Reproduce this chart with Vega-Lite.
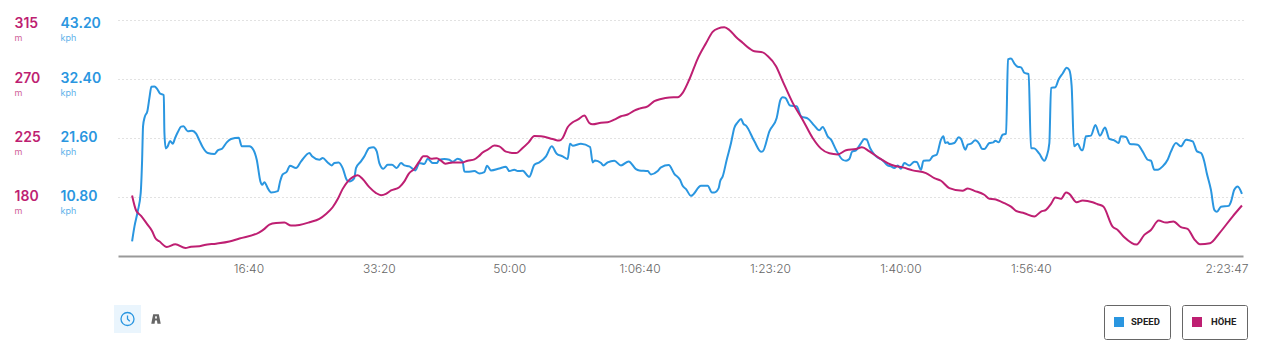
{"$schema":"https://vega.github.io/schema/vega-lite/v6.json","width":1125,"height":236,"autosize":"none","padding":{"left":118,"top":20,"right":20,"bottom":99},"background":"white","config":{"view":{"stroke":null},"font":"Inter"},
"datasets":{"speed":[{"t":108,"kph":2.69},{"t":126,"kph":5.38},{"t":151,"kph":8.14},{"t":174,"kph":11.5},{"t":185,"kph":17.62},{"t":192,"kph":23.74},{"t":205,"kph":25.46},{"t":225,"kph":26.5},{"t":241,"kph":28.95},{"t":256,"kph":30.97},{"t":279,"kph":31.03},{"t":300,"kph":30.6},{"t":322,"kph":29.74},{"t":351,"kph":29.44},{"t":356,"kph":22.52},{"t":366,"kph":19.7},{"t":381,"kph":20.07},{"t":399,"kph":21.05},{"t":420,"kph":20.56},{"t":438,"kph":21.6},{"t":458,"kph":22.64},{"t":484,"kph":23.68},{"t":502,"kph":23.74},{"t":535,"kph":22.83},{"t":568,"kph":22.95},{"t":599,"kph":22.4},{"t":624,"kph":21.17},{"t":650,"kph":19.89},{"t":688,"kph":18.85},{"t":739,"kph":18.66},{"t":765,"kph":19.34},{"t":798,"kph":19.64},{"t":834,"kph":20.81},{"t":867,"kph":21.42},{"t":926,"kph":21.66},{"t":949,"kph":20.07},{"t":1008,"kph":20.07},{"t":1038,"kph":19.46},{"t":1064,"kph":17.62},{"t":1092,"kph":13.65},{"t":1105,"kph":13.03},{"t":1123,"kph":13.52},{"t":1148,"kph":12.42},{"t":1174,"kph":11.63},{"t":1225,"kph":11.87},{"t":1243,"kph":13.65},{"t":1263,"kph":14.93},{"t":1294,"kph":15.42},{"t":1319,"kph":16.52},{"t":1365,"kph":16.09},{"t":1404,"kph":17.32},{"t":1468,"kph":18.85},{"t":1488,"kph":18.24},{"t":1544,"kph":17.62},{"t":1570,"kph":17.93},{"t":1608,"kph":17.13},{"t":1639,"kph":16.58},{"t":1659,"kph":17.01},{"t":1692,"kph":17.13},{"t":1723,"kph":16.09},{"t":1754,"kph":13.95},{"t":1774,"kph":13.65},{"t":1812,"kph":14.26},{"t":1825,"kph":16.09},{"t":1863,"kph":17.32},{"t":1889,"kph":18.24},{"t":1927,"kph":19.77},{"t":1958,"kph":19.89},{"t":1984,"kph":19.15},{"t":2004,"kph":17.01},{"t":2035,"kph":15.97},{"t":2068,"kph":16.71},{"t":2101,"kph":16.71},{"t":2137,"kph":16.09},{"t":2170,"kph":17.01},{"t":2196,"kph":16.58},{"t":2234,"kph":16.4},{"t":2280,"kph":15.67},{"t":2311,"kph":17.01},{"t":2349,"kph":16.83},{"t":2375,"kph":17.81},{"t":2413,"kph":17.01},{"t":2444,"kph":17.01},{"t":2464,"kph":17.62},{"t":2503,"kph":17.75},{"t":2541,"kph":17.62},{"t":2566,"kph":17.26},{"t":2605,"kph":17.81},{"t":2643,"kph":17.26},{"t":2656,"kph":15.48},{"t":2681,"kph":15.42},{"t":2733,"kph":15.54},{"t":2771,"kph":15.11},{"t":2809,"kph":15.36},{"t":2830,"kph":16.52},{"t":2860,"kph":15.67},{"t":2924,"kph":16.03},{"t":2975,"kph":16.34},{"t":3001,"kph":15.54},{"t":3039,"kph":15.79},{"t":3065,"kph":15.54},{"t":3103,"kph":15.6},{"t":3154,"kph":14.5},{"t":3193,"kph":16.71},{"t":3231,"kph":17.13},{"t":3282,"kph":18.24},{"t":3326,"kph":20.07},{"t":3364,"kph":18.73},{"t":3410,"kph":18.24},{"t":3448,"kph":17.75},{"t":3466,"kph":20.56},{"t":3487,"kph":20.19},{"t":3550,"kph":20.56},{"t":3620,"kph":19.95},{"t":3640,"kph":17.13},{"t":3658,"kph":17.5},{"t":3704,"kph":17.01},{"t":3722,"kph":16.58},{"t":3755,"kph":17.13},{"t":3806,"kph":17.44},{"t":3857,"kph":16.58},{"t":3916,"kph":17.32},{"t":3972,"kph":15.91},{"t":3998,"kph":15.67},{"t":4062,"kph":15.54},{"t":4087,"kph":14.93},{"t":4139,"kph":15.54},{"t":4164,"kph":16.22},{"t":4223,"kph":16.64},{"t":4266,"kph":15.05},{"t":4310,"kph":13.95},{"t":4330,"kph":12.85},{"t":4356,"kph":12.24},{"t":4394,"kph":11.01},{"t":4471,"kph":12.85},{"t":4522,"kph":12.85},{"t":4555,"kph":11.63},{"t":4573,"kph":11.63},{"t":4606,"kph":12.42},{"t":4617,"kph":13.65},{"t":4637,"kph":14.56},{"t":4668,"kph":17.62},{"t":4701,"kph":20.68},{"t":4726,"kph":23.44},{"t":4752,"kph":24.48},{"t":4778,"kph":25.09},{"t":4795,"kph":24.23},{"t":4816,"kph":23.87},{"t":4880,"kph":20.99},{"t":4931,"kph":19.09},{"t":4944,"kph":19.15},{"t":4995,"kph":22.83},{"t":5051,"kph":25.27},{"t":5079,"kph":28.52},{"t":5097,"kph":29.07},{"t":5118,"kph":28.95},{"t":5153,"kph":27.54},{"t":5204,"kph":27.42},{"t":5238,"kph":25.58},{"t":5294,"kph":25.09},{"t":5340,"kph":23.87},{"t":5378,"kph":23.01},{"t":5404,"kph":23.62},{"t":5442,"kph":21.91},{"t":5468,"kph":21.3},{"t":5506,"kph":19.46},{"t":5557,"kph":17.62},{"t":5583,"kph":17.44},{"t":5608,"kph":17.75},{"t":5629,"kph":19.09},{"t":5659,"kph":19.34},{"t":5698,"kph":20.68},{"t":5723,"kph":21.42},{"t":5741,"kph":21.3},{"t":5767,"kph":19.77},{"t":5787,"kph":18.97},{"t":5813,"kph":18.24},{"t":5864,"kph":17.5},{"t":5902,"kph":16.58},{"t":5928,"kph":16.4},{"t":5953,"kph":16.09},{"t":5979,"kph":16.58},{"t":6004,"kph":15.97},{"t":6030,"kph":17.01},{"t":6068,"kph":16.58},{"t":6107,"kph":17.26},{"t":6125,"kph":17.2},{"t":6158,"kph":15.79},{"t":6176,"kph":17.44},{"t":6222,"kph":17.5},{"t":6247,"kph":18.24},{"t":6278,"kph":18.54},{"t":6311,"kph":21.3},{"t":6329,"kph":21.91},{"t":6344,"kph":20.68},{"t":6362,"kph":20.81},{"t":6375,"kph":20.5},{"t":6413,"kph":20.68},{"t":6447,"kph":21.72},{"t":6464,"kph":21.42},{"t":6498,"kph":19.46},{"t":6516,"kph":20.38},{"t":6541,"kph":20.56},{"t":6574,"kph":21.17},{"t":6605,"kph":20.5},{"t":6625,"kph":19.64},{"t":6643,"kph":19.58},{"t":6682,"kph":20.68},{"t":6712,"kph":20.81},{"t":6728,"kph":21.11},{"t":6753,"kph":20.81},{"t":6784,"kph":22.21},{"t":6810,"kph":22.4},{"t":6825,"kph":35.98},{"t":6848,"kph":36.17},{"t":6873,"kph":35.25},{"t":6899,"kph":34.64},{"t":6925,"kph":34.52},{"t":6950,"kph":33.54},{"t":6983,"kph":33.29},{"t":7001,"kph":19.77},{"t":7027,"kph":19.7},{"t":7065,"kph":18.73},{"t":7103,"kph":17.44},{"t":7121,"kph":18.24},{"t":7142,"kph":20.68},{"t":7155,"kph":30.78},{"t":7188,"kph":30.9},{"t":7213,"kph":32.31},{"t":7244,"kph":33.41},{"t":7275,"kph":34.45},{"t":7295,"kph":34.03},{"t":7313,"kph":31.09},{"t":7331,"kph":20.07},{"t":7359,"kph":20.56},{"t":7385,"kph":19.46},{"t":7397,"kph":19.34},{"t":7423,"kph":21.91},{"t":7461,"kph":22.03},{"t":7495,"kph":23.99},{"t":7530,"kph":22.03},{"t":7569,"kph":23.5},{"t":7602,"kph":21.42},{"t":7640,"kph":21.17},{"t":7673,"kph":20.68},{"t":7691,"kph":21.91},{"t":7730,"kph":21.79},{"t":7760,"kph":20.5},{"t":7819,"kph":20.38},{"t":7857,"kph":19.15},{"t":7896,"kph":17.62},{"t":7921,"kph":17.44},{"t":7947,"kph":15.79},{"t":7973,"kph":15.79},{"t":8011,"kph":16.4},{"t":8049,"kph":17.62},{"t":8075,"kph":19.15},{"t":8113,"kph":20.68},{"t":8151,"kph":20.07},{"t":8190,"kph":21.3},{"t":8241,"kph":20.99},{"t":8274,"kph":19.15},{"t":8305,"kph":18.85},{"t":8330,"kph":17.32},{"t":8348,"kph":15.3},{"t":8381,"kph":12.12},{"t":8407,"kph":8.44},{"t":8427,"kph":8.08},{"t":8458,"kph":9.0},{"t":8517,"kph":9.18},{"t":8535,"kph":9.97},{"t":8560,"kph":12.12},{"t":8586,"kph":12.73},{"t":8619,"kph":11.38}],
"elev":[{"t":108,"m":181.2},{"t":139,"m":169.7},{"t":177,"m":165.6},{"t":228,"m":158.7},{"t":261,"m":154.1},{"t":287,"m":148.5},{"t":317,"m":146.2},{"t":374,"m":141.9},{"t":440,"m":143.9},{"t":517,"m":141.1},{"t":560,"m":142.1},{"t":624,"m":142.4},{"t":663,"m":143.4},{"t":752,"m":144.4},{"t":854,"m":146.0},{"t":931,"m":148.3},{"t":1084,"m":153.1},{"t":1123,"m":155.7},{"t":1161,"m":159.0},{"t":1212,"m":160.2},{"t":1276,"m":160.5},{"t":1327,"m":158.2},{"t":1391,"m":158.7},{"t":1468,"m":160.7},{"t":1544,"m":163.3},{"t":1595,"m":167.1},{"t":1646,"m":172.2},{"t":1685,"m":178.4},{"t":1723,"m":186.2},{"t":1761,"m":191.8},{"t":1800,"m":195.2},{"t":1838,"m":196.5},{"t":1876,"m":193.7},{"t":1927,"m":187.5},{"t":1979,"m":183.0},{"t":2017,"m":181.4},{"t":2055,"m":182.4},{"t":2094,"m":185.0},{"t":2157,"m":187.5},{"t":2196,"m":191.9},{"t":2229,"m":197.7},{"t":2272,"m":201.5},{"t":2311,"m":207.2},{"t":2341,"m":211.0},{"t":2367,"m":211.0},{"t":2400,"m":209.2},{"t":2444,"m":209.5},{"t":2477,"m":207.7},{"t":2510,"m":205.4},{"t":2566,"m":206.4},{"t":2643,"m":206.4},{"t":2681,"m":207.7},{"t":2733,"m":208.7},{"t":2766,"m":211.0},{"t":2796,"m":214.0},{"t":2835,"m":216.1},{"t":2886,"m":219.2},{"t":2924,"m":218.6},{"t":2975,"m":214.6},{"t":3052,"m":213.5},{"t":3103,"m":217.4},{"t":3149,"m":221.7},{"t":3193,"m":226.5},{"t":3244,"m":226.3},{"t":3333,"m":224.2},{"t":3384,"m":223.0},{"t":3410,"m":225.0},{"t":3448,"m":233.2},{"t":3487,"m":237.0},{"t":3525,"m":239.0},{"t":3576,"m":242.1},{"t":3614,"m":236.5},{"t":3640,"m":235.5},{"t":3704,"m":236.7},{"t":3755,"m":237.0},{"t":3806,"m":239.0},{"t":3857,"m":241.6},{"t":3908,"m":242.9},{"t":3959,"m":245.9},{"t":3998,"m":247.4},{"t":4062,"m":249.2},{"t":4113,"m":253.1},{"t":4164,"m":254.8},{"t":4228,"m":255.9},{"t":4292,"m":256.1},{"t":4330,"m":259.4},{"t":4381,"m":269.6},{"t":4445,"m":285.4},{"t":4509,"m":297.2},{"t":4560,"m":305.9},{"t":4599,"m":308.4},{"t":4650,"m":309.4},{"t":4688,"m":307.4},{"t":4739,"m":302.0},{"t":4790,"m":297.7},{"t":4841,"m":293.4},{"t":4880,"m":291.1},{"t":4944,"m":290.3},{"t":4982,"m":287.5},{"t":5046,"m":279.8},{"t":5097,"m":268.4},{"t":5174,"m":251.8},{"t":5250,"m":239.0},{"t":5327,"m":225.0},{"t":5391,"m":216.9},{"t":5455,"m":213.3},{"t":5519,"m":212.5},{"t":5583,"m":215.6},{"t":5659,"m":216.6},{"t":5705,"m":217.9},{"t":5762,"m":214.8},{"t":5838,"m":209.7},{"t":5902,"m":205.9},{"t":5953,"m":203.8},{"t":6017,"m":202.6},{"t":6094,"m":200.3},{"t":6196,"m":198.2},{"t":6260,"m":194.4},{"t":6311,"m":192.4},{"t":6375,"m":186.8},{"t":6477,"m":184.7},{"t":6516,"m":186.5},{"t":6567,"m":184.7},{"t":6643,"m":181.7},{"t":6682,"m":178.6},{"t":6720,"m":178.3},{"t":6797,"m":175.3},{"t":6848,"m":172.7},{"t":6886,"m":169.4},{"t":6950,"m":167.6},{"t":7027,"m":165.1},{"t":7078,"m":168.9},{"t":7116,"m":170.2},{"t":7155,"m":174.8},{"t":7188,"m":179.6},{"t":7231,"m":178.6},{"t":7270,"m":183.4},{"t":7295,"m":182.4},{"t":7351,"m":176.0},{"t":7397,"m":177.3},{"t":7474,"m":176.0},{"t":7512,"m":174.5},{"t":7556,"m":172.7},{"t":7627,"m":157.4},{"t":7666,"m":154.9},{"t":7717,"m":149.3},{"t":7811,"m":143.7},{"t":7870,"m":151.1},{"t":7921,"m":154.9},{"t":7980,"m":162.0},{"t":8036,"m":160.5},{"t":8093,"m":161.3},{"t":8151,"m":157.0},{"t":8202,"m":155.7},{"t":8254,"m":147.7},{"t":8297,"m":143.9},{"t":8374,"m":144.7},{"t":8445,"m":152.3},{"t":8547,"m":165.1},{"t":8619,"m":173.5}]},
"encoding":{"x":{"field":"t","type":"quantitative","scale":{"domain":[0,8627],"nice":false,"zero":false},"axis":{"title":null,"values":[1000,2000,3000,4000,5000,6000,7000,8627],"grid":false,"ticks":false,"domainColor":"#999999","domainWidth":2,"labelColor":"#666666","labelFont":"Inter","labelFontSize":12,"labelFontWeight":300,"labelPadding":7,"labelFlush":2,"labelFlushOffset":5,"labelExpr":"(datum.value<3600?'':floor(datum.value/3600)+':')+(floor(datum.value%3600/60)<10&&datum.value>=3600?'0':'')+floor(datum.value%3600/60)+':'+(datum.value%60<10?'0':'')+datum.value%60"}}},
"layer":[
{"data":{"name":"speed"},"mark":{"type":"line","strokeWidth":2,"strokeJoin":"round","interpolate":"monotone"},"encoding":{"y":{"field":"kph","type":"quantitative","scale":{"domain":[0,43.2],"nice":false},"axis":{"orient":"left","title":null,"values":[10.8,21.6,32.4,43.2],"format":".2f","grid":true,"gridColor":"#c4c4c4","gridDash":[1,3],"gridWidth":1,"domain":false,"ticks":false,"tickSize":0,"labelAlign":"left","labelPadding":58,"labelColor":"#2a96e0","labelFont":"Inter","labelFontSize":14,"labelFontWeight":600,"labelOffset":{"condition":{"test":"datum.value==43.2","value":3},"value":-0.5}}},"color":{"datum":"SPEED","scale":{"domain":["SPEED"],"range":["#2a96e0"]},"legend":{"orient":"none","legendX":986,"legendY":285,"title":null,"padding":10,"clipHeight":14,"strokeColor":"#666666","cornerRadius":2,"symbolType":"square","symbolSize":100,"symbolFillColor":"#2a96e0","symbolStrokeColor":"#2a96e0","symbolStrokeWidth":0,"labelFont":"Roboto","labelFontWeight":"bold","labelFontSize":9.5,"labelColor":"#222222","labelOffset":7}}}},
{"data":{"name":"elev"},"mark":{"type":"line","strokeWidth":2,"strokeJoin":"round","interpolate":"monotone"},"encoding":{"y":{"field":"m","type":"quantitative","scale":{"domain":[135,315],"nice":false,"zero":false},"axis":{"orient":"left","title":null,"values":[180,225,270,315],"format":"d","grid":false,"domain":false,"ticks":false,"tickSize":0,"labelAlign":"left","labelPadding":104,"labelColor":"#be1f72","labelFont":"Inter","labelFontSize":14,"labelFontWeight":600,"labelOffset":{"condition":{"test":"datum.value==315","value":3},"value":-0.5}}},"color":{"datum":"HÖHE","scale":{"domain":["HÖHE"],"range":["#be1f72"]},"legend":{"orient":"none","legendX":1064,"legendY":285,"title":null,"padding":10,"clipHeight":14,"strokeColor":"#666666","cornerRadius":2,"symbolType":"square","symbolSize":100,"symbolFillColor":"#be1f72","symbolStrokeColor":"#be1f72","symbolStrokeWidth":0,"labelFont":"Roboto","labelFontWeight":"bold","labelFontSize":9.5,"labelColor":"#222222","labelOffset":9}}}},
{"data":{"values":[]},"mark":{"type":"line"},"encoding":{"y":{"field":"v","type":"quantitative","scale":{"domain":[0,43.2],"nice":false},"axis":{"orient":"left","title":null,"values":[10.8,21.6,32.4,43.2],"grid":false,"domain":false,"ticks":false,"tickSize":0,"labelAlign":"left","labelPadding":58,"labelColor":"#62b2ea","labelFont":"Inter","labelFontSize":9,"labelFontWeight":400,"labelExpr":"'kph'","labelOffset":{"condition":{"test":"datum.value==43.2","value":17},"value":13.5}}},"color":{"datum":"clock","scale":{"domain":["clock"],"range":["#2a96e0"]},"legend":{"orient":"none","legendX":-4,"legendY":285,"title":null,"padding":6,"clipHeight":16,"fillColor":"#eaf5fd","symbolType":"M1,0A1,1 0 1,1 -1,0A1,1 0 1,1 1,0M0,-0.55L0,0L0.35,0.35","symbolSize":169,"symbolStrokeColor":"#2a96e0","symbolFillColor":"transparent","symbolStrokeWidth":1.3,"labelExpr":"''","labelFontSize":1,"labelOffset":0}}}},
{"data":{"values":[]},"mark":{"type":"line"},"encoding":{"y":{"field":"v","type":"quantitative","scale":{"domain":[135,315],"nice":false,"zero":false},"axis":{"orient":"left","title":null,"values":[180,225,270,315],"grid":false,"domain":false,"ticks":false,"tickSize":0,"labelAlign":"left","labelPadding":104,"labelColor":"#d0649b","labelFont":"Inter","labelFontSize":9,"labelFontWeight":400,"labelExpr":"'m'","labelOffset":{"condition":{"test":"datum.value==315","value":17},"value":13.5}}},"color":{"datum":"road","scale":{"domain":["road"],"range":["#666666"]},"legend":{"orient":"none","legendX":33,"legendY":294,"title":null,"padding":0,"symbolType":"M-0.6,-1L0.6,-1L1,1L0.3,1L0.2,0.3L-0.2,0.3L-0.3,1L-1,1ZM-0.16,-0.6L-0.2,-0.1L0.2,-0.1L0.16,-0.6Z","symbolSize":90,"symbolStrokeColor":"#666666","symbolFillColor":"#666666","symbolStrokeWidth":0,"labelExpr":"''","labelFontSize":1,"labelOffset":0}}}}
],
"resolve":{"scale":{"y":"independent","color":"independent"},"axis":{"y":"independent"},"legend":{"color":"independent"}}}
